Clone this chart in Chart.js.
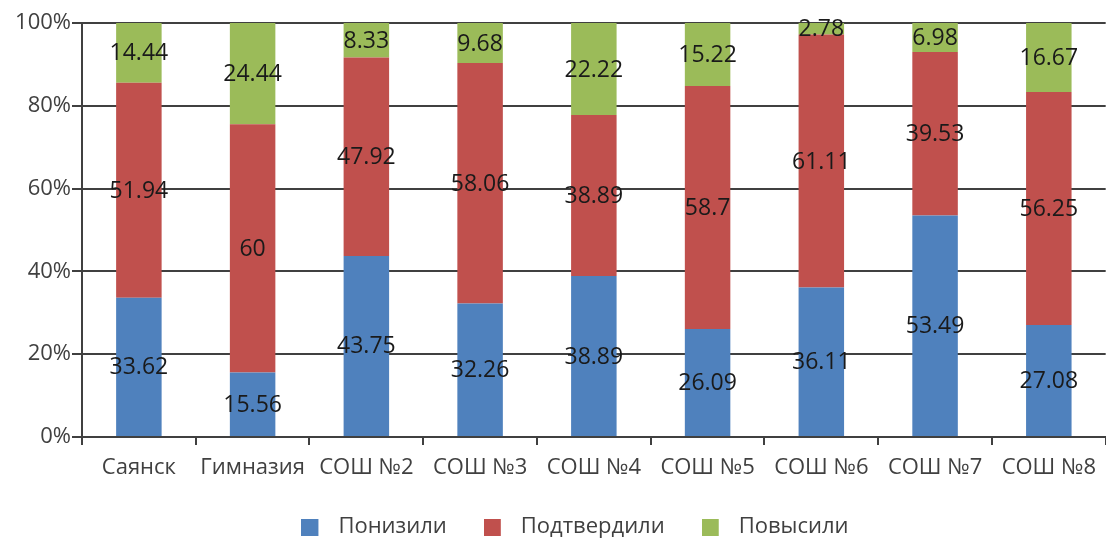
<!DOCTYPE html>
<html>
<head>
<meta charset="utf-8">
<script src="https://cdn.jsdelivr.net/npm/chart.js@4.4.1/dist/chart.umd.min.js"></script>
<style>
  html, body { margin: 0; padding: 0; background: #ffffff; }
  #wrap { width: 1106px; height: 539px; position: relative; }
</style>
</head>
<body>
<div id="wrap"><canvas id="c" width="1106" height="539"></canvas></div>
<script>
const categories = ['Саянск', 'Гимназия', 'СОШ №2', 'СОШ №3', 'СОШ №4', 'СОШ №5', 'СОШ №6', 'СОШ №7', 'СОШ №8'];
const seriesNames = ['Понизили', 'Подтвердили', 'Повысили'];
const lowered   = [33.62, 15.56, 43.75, 32.26, 38.89, 26.09, 36.11, 53.49, 27.08];
const confirmed = [51.94, 60, 47.92, 58.06, 38.89, 58.7, 61.11, 39.53, 56.25];
const raised    = [14.44, 24.44, 8.33, 9.68, 22.22, 15.22, 2.78, 6.98, 16.67];
const yTicks = [0, 20, 40, 60, 80, 100];
const colors = ['#4F81BD', '#C0504D', '#9BBB59'];

const FONT = "'Open Sans', 'Liberation Sans', sans-serif";
const LEGEND_PAD = 37;
const BOTTOM_EXTRA = 80;

// legend swatch: 17px square on the left of a 26px-wide transparent canvas
function swatch(color) {
  const c = document.createElement('canvas');
  c.width = 26; c.height = 17;
  const g = c.getContext('2d');
  g.fillStyle = color;
  g.fillRect(0, 0, 17, 17);
  return c;
}

const labelPlugin = {
  id: 'segLabels',
  afterDatasetsDraw(chart) {
    const ctx = chart.ctx;
    ctx.save();
    ctx.font = "23px " + FONT;
    ctx.fillStyle = '#1a1a1a';
    ctx.textAlign = 'center';
    ctx.textBaseline = 'middle';
    chart.data.datasets.forEach((ds, di) => {
      const meta = chart.getDatasetMeta(di);
      meta.data.forEach((bar, i) => {
        const v = ds.data[i];
        const y = (bar.y + bar.base) / 2;
        ctx.fillText(String(v), bar.x, y + 1);
      });
    });
    ctx.restore();
  }
};

const legendShift = {
  id: 'legendShift',
  afterLayout(chart) {
    const lg = chart.legend;
    if (lg) {
      lg.left += 22; lg.right += 22;
      lg.top = 527 - LEGEND_PAD - 11;
    }
  }
};

new Chart(document.getElementById('c'), {
  type: 'bar',
  data: {
    labels: categories,
    datasets: [
      { label: seriesNames[0], data: lowered,   backgroundColor: colors[0], pointStyle: swatch(colors[0]) },
      { label: seriesNames[1], data: confirmed, backgroundColor: colors[1], pointStyle: swatch(colors[1]) },
      { label: seriesNames[2], data: raised,    backgroundColor: colors[2], pointStyle: swatch(colors[2]) }
    ]
  },
  options: {
    responsive: false,
    animation: false,
    devicePixelRatio: 1,
    layout: { padding: { top: 23, right: 0, left: 0, bottom: -BOTTOM_EXTRA } },
    datasets: { bar: { barPercentage: 0.4, categoryPercentage: 1 } },
    plugins: {
      legend: {
        position: 'bottom',
        labels: {
          usePointStyle: true, pointStyleWidth: 26,
          boxWidth: 17, boxHeight: 17, padding: LEGEND_PAD,
          color: '#404040',
          font: { family: FONT, size: 22 }
        }
      },
      tooltip: { enabled: false }
    },
    scales: {
      x: {
        stacked: true,
        afterFit(s) { s.height = Math.max(0, 539 + BOTTOM_EXTRA - 437 - (s.chart.legend ? s.chart.legend.height : 0)); },
        border: { color: '#404040', width: 2 },
        grid: { display: true, drawOnChartArea: false, drawTicks: true, tickLength: 8, color: '#404040', lineWidth: 2, offset: true },
        ticks: { color: '#404040', font: { family: FONT, size: 22 }, padding: 10, maxRotation: 0, autoSkip: false }
      },
      y: {
        stacked: true,
        min: 0, max: 100,
        afterFit(s) { s.width = 82; },
        afterBuildTicks(s) { s.ticks = yTicks.map(v => ({ value: v })); },
        border: { color: '#404040', width: 2 },
        grid: { color: '#404040', lineWidth: 2, tickLength: 10 },
        ticks: { color: '#404040', font: { family: FONT, size: 22 }, padding: 1, callback: v => v + '%' }
      }
    }
  },
  plugins: [labelPlugin, legendShift]
});
</script>
</body>
</html>
